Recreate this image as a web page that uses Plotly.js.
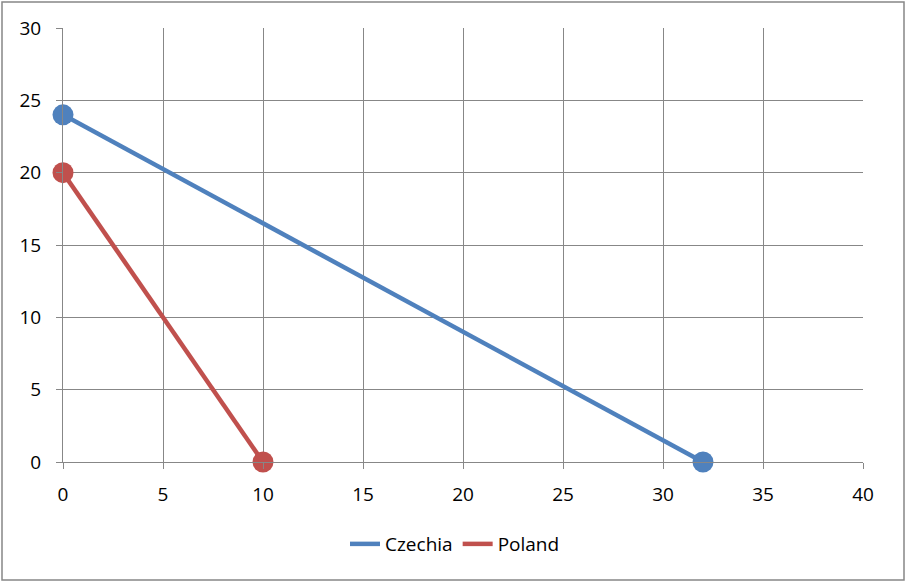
<!DOCTYPE html>
<html>
<head>
<meta charset="utf-8">
<script src="https://cdn.plot.ly/plotly-3.0.1.min.js"></script>
<style>html,body{margin:0;padding:0;background:#fff;}#chart{width:908px;height:584px;}</style>
</head>
<body>
<div id="chart"></div>
<script>
const seriesNames = ["Czechia", "Poland"];
const czechiaX = [0, 32];
const czechiaY = [24, 0];
const polandX = [0, 10];
const polandY = [20, 0];
const xTicks = [0, 5, 10, 15, 20, 25, 30, 35, 40];
const yTicks = [0, 5, 10, 15, 20, 25, 30];

const colors = ["#4F81BD", "#C0504D"];
const data = [];
[[czechiaX, czechiaY], [polandX, polandY]].forEach((s, i) => {
  data.push({x: s[0], y: s[1], mode: "lines", name: seriesNames[i],
    line: {color: colors[i], width: 4.5}, hoverinfo: "skip", cliponaxis: false});
  data.push({x: [s[0][0], s[0][s[0].length-1]], y: [s[1][0], s[1][s[1].length-1]],
    mode: "markers", showlegend: false, marker: {color: colors[i], size: 21},
    hoverinfo: "skip", cliponaxis: false});
});

const axisCommon = {
  showgrid: true, gridcolor: "#878787", gridwidth: 1,
  showline: true, linecolor: "#878787", linewidth: 1,
  ticks: "outside", ticklen: 6, tickcolor: "#878787", tickwidth: 1,
  zeroline: false, tickfont: {family: "Open Sans, sans-serif", size: 19, color: "#000"},
  fixedrange: true
};
const layout = {
  width: 908, height: 584,
  margin: {l: 63, r: 45, t: 28, b: 122},
  paper_bgcolor: "#fff", plot_bgcolor: "#fff",
  xaxis: Object.assign({}, axisCommon, {range: [0, 40], tickvals: xTicks, ticklabelstandoff: 9}),
  yaxis: Object.assign({}, axisCommon, {range: [0, 30], tickvals: yTicks, ticklabelstandoff: 11}),
  showlegend: true,
  legend: {orientation: "h", x: 0.49, xanchor: "center", y: -0.189, yanchor: "middle",
    font: {family: "Open Sans, sans-serif", size: 19, color: "#000"}, itemwidth: 30},
  shapes: [{type: "rect", xref: "paper", yref: "paper",
    x0: -0.07625, x1: 1.05125, y0: -0.2719, y1: 1.0599,
    line: {color: "#878787", width: 1.5}, fillcolor: "rgba(0,0,0,0)", layer: "below"}]
};
Plotly.newPlot("chart", data, layout, {staticPlot: true});
</script>
</body>
</html>
